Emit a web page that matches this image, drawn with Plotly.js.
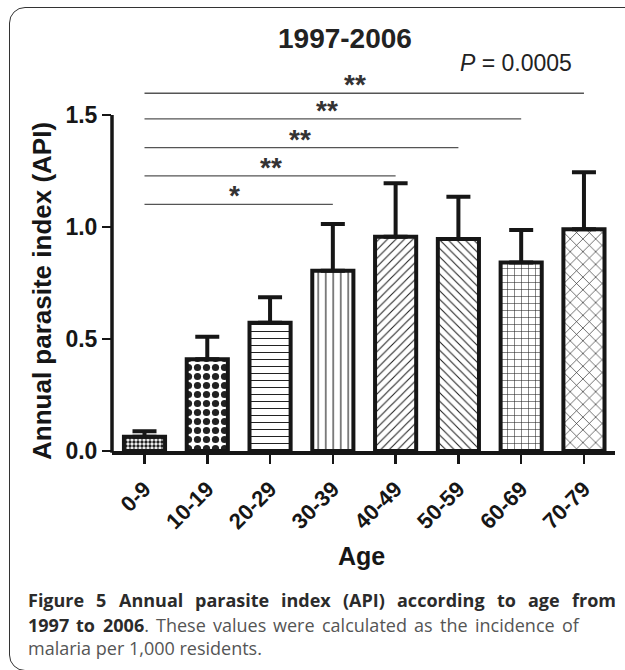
<!DOCTYPE html>
<html><head><meta charset="utf-8">
<script src="https://cdn.plot.ly/plotly-3.0.1.min.js"></script>
<style>
html,body{margin:0;padding:0;background:#fff;overflow:hidden;}
#wrap{position:relative;width:625px;height:670px;}
#chart{position:absolute;left:0;top:0;width:625px;height:670px;}
#frame{position:absolute;left:9px;top:7px;width:700px;height:662px;border:1.5px solid #333;border-radius:16px;pointer-events:none;}
</style></head>
<body><div id="wrap"><div id="chart"></div><div id="frame"></div></div>
<script>
// ---- data ----
const ages = ['0-9','10-19','20-29','30-39','40-49','50-59','60-69','70-79'];
const api = [0.064, 0.41, 0.573, 0.805, 0.957, 0.946, 0.842, 0.99];
const apiErr = [0.024, 0.10, 0.113, 0.208, 0.238, 0.189, 0.145, 0.254];
const compareFrom = [0, 0, 0, 0, 0];
const compareTo = [3, 4, 5, 6, 7];
const compareY = [1.101, 1.228, 1.354, 1.483, 1.597];
const compareLabel = ['*', '**', '**', '**', '**'];
const compareLabelX = [1.43, 2.02, 2.48, 2.9, 3.35];
const yTicks = [0, 0.5, 1.0, 1.5];
const yTickText = ['0.0', '0.5', '1.0', '1.5'];
const chartTitle = '1997-2006';
const pText = '<i>P</i> = 0.0005';
const yTitle = 'Annual parasite index (API)';
const xTitle = 'Age';
const caption1 = 'Figure 5 Annual parasite index (API) according to age from';
const caption2Bold = '1997 to 2006';
const caption2Rest = '. These values were calculated as the incidence of';
const caption3 = 'malaria per 1,000 residents.';

// ---- styles ----
const patShapes = ['.', '.', '-', '|', '/', '\\', '+', 'x'];
const patSizes = [4, 9, 7, 7.5, 6, 6, 7, 9];
const patSolid = [0.55, 0.5, 0.15, 0.15, 0.18, 0.18, 0.15, 0.14];

const W = 625, H = 670;
const M = {l: 112, r: 10, t: 48, b: 219};
const pw = W - M.l - M.r, ph = H - M.t - M.b;
const pxPerUnit = 224, pxPerCat = 62.78;
const yMax = ph / pxPerUnit;
const xMin = -32.5 / pxPerCat;
const xMax = xMin + pw / pxPerCat;
const px2x = p => (p - M.l) / pw;
const px2y = p => (H - M.b - p) / ph;

const AX = 'Liberation Sans, Arial, sans-serif';
const CAP = 'Open Sans, sans-serif';
const CAPSIZE = 18;
const ink = '#161616';
const capDark = '#2b2b2b', capGray = '#555';

const bars = {
  type: 'bar', x: ages.map((a, i) => i), y: api, width: 0.655,
  marker: {
    color: 'white',
    line: {color: ink, width: 4},
    pattern: {shape: patShapes, size: patSizes, solidity: patSolid, fgcolor: '#222', bgcolor: 'white', fillmode: 'replace'}
  },
  error_y: {type: 'data', symmetric: false, array: apiErr, arrayminus: api.map(() => 0),
            color: ink, thickness: 4, width: 12},
  hoverinfo: 'skip', cliponaxis: false
};

const lx = [], ly = [];
compareFrom.forEach((f, i) => { lx.push(f, compareTo[i], null); ly.push(compareY[i], compareY[i], null); });
const sigLines = {type: 'scatter', mode: 'lines', x: lx, y: ly,
  line: {color: '#555', width: 1.3}, hoverinfo: 'skip', connectgaps: false};

const ann = [];
compareLabel.forEach((t, i) => ann.push({
  xref: 'x', yref: 'y', x: compareLabelX[i], y: compareY[i], text: t, showarrow: false,
  xanchor: 'center', yanchor: 'bottom', yshift: -9,
  font: {family: AX, size: 28, weight: 700, color: '#333'}
}));
ann.push({xref: 'paper', yref: 'paper', x: px2x(345), y: px2y(39), text: chartTitle, showarrow: false,
  xanchor: 'center', yanchor: 'middle', font: {family: AX, size: 28, weight: 700, color: '#222'}});
ann.push({xref: 'paper', yref: 'paper', x: px2x(516), y: px2y(63), text: pText, showarrow: false,
  xanchor: 'center', yanchor: 'middle', font: {family: AX, size: 23, color: '#222'}});
ann.push({xref: 'paper', yref: 'paper', x: px2x(42), y: px2y(291), text: yTitle, textangle: -90, showarrow: false,
  xanchor: 'center', yanchor: 'middle', font: {family: AX, size: 26, weight: 700, color: ink}});
ann.push({xref: 'paper', yref: 'paper', x: px2x(361), y: px2y(556), text: xTitle, showarrow: false,
  xanchor: 'center', yanchor: 'middle', font: {family: AX, size: 25, weight: 700, color: ink}});

// ---- caption: justified words measured with canvas ----
const ctx = document.createElement('canvas').getContext('2d');
function tw(s, bold) {
  ctx.font = (bold ? '700 ' : '400 ') + CAPSIZE + 'px "Open Sans"';
  return ctx.measureText(s).width;
}
function justify(tokens, x0, x1, ypx) {
  const widths = tokens.map(t => t.w);
  const total = widths.reduce((a, b) => a + b, 0);
  const gap = tokens.length > 1 ? (x1 - x0 - total) / (tokens.length - 1) : 0;
  let x = x0;
  tokens.forEach(t => {
    ann.push({xref: 'paper', yref: 'paper', x: px2x(x), y: px2y(ypx), text: t.html, showarrow: false,
      xanchor: 'left', yanchor: 'middle', borderpad: 0,
      font: {family: CAP, size: CAPSIZE, color: t.color}});
    x += t.w + gap;
  });
}
const line1 = caption1.split(' ').map(w => ({html: '<b>' + w + '</b>', w: tw(w, true), color: capDark}));
justify(line1, 27, 615, 600);
const bWords = caption2Bold.split(' ');
const rWords = caption2Rest.split(' ');
const line2 = bWords.map((w, i) => {
  if (i < bWords.length - 1) return {html: '<b>' + w + '</b>', w: tw(w, true), color: capDark};
  return {html: '<b>' + w + '</b><span style="color:' + capGray + '">' + rWords[0] + '</span>',
          w: tw(w, true) + tw(rWords[0], false), color: capDark};
}).concat(rWords.slice(1).map(w => ({html: w, w: tw(w, false), color: capGray})));
justify(line2, 27, 578, 624.5);
ann.push({xref: 'paper', yref: 'paper', x: px2x(27), y: px2y(648), text: caption3, showarrow: false,
  xanchor: 'left', yanchor: 'middle', borderpad: 0, font: {family: CAP, size: CAPSIZE, color: capGray}});

const layout = {
  width: W, height: H, margin: M, showlegend: false,
  paper_bgcolor: 'white', plot_bgcolor: 'rgba(0,0,0,0)',
  xaxis: {range: [xMin, xMax], tickmode: 'array', tickvals: ages.map((a, i) => i), ticktext: ages,
    tickangle: -45, showline: true, linecolor: ink, linewidth: 3.5, ticks: 'outside', ticklen: 9,
    tickwidth: 2.5, tickcolor: ink, showgrid: false, zeroline: false, automargin: false,
    ticklabelstandoff: 4,
    tickfont: {family: AX, size: 22, weight: 700, color: ink}, fixedrange: true},
  yaxis: {range: [0, yMax], tickmode: 'array', tickvals: yTicks, ticktext: yTickText,
    showline: false, ticks: 'outside', ticklen: 9, tickwidth: 2.5, tickcolor: ink,
    showgrid: false, zeroline: false, automargin: false,
    tickfont: {family: AX, size: 23, weight: 700, color: ink}, fixedrange: true},
  shapes: [{type: 'line', xref: 'paper', yref: 'paper', x0: 0, x1: 0, y0: -3.5 / 2 / ph, y1: 1.5 / yMax,
    line: {color: ink, width: 3.5}}],
  annotations: ann
};

Plotly.newPlot('chart', [bars, sigLines], layout, {displayModeBar: false, staticPlot: true});
</script>
</body></html>
